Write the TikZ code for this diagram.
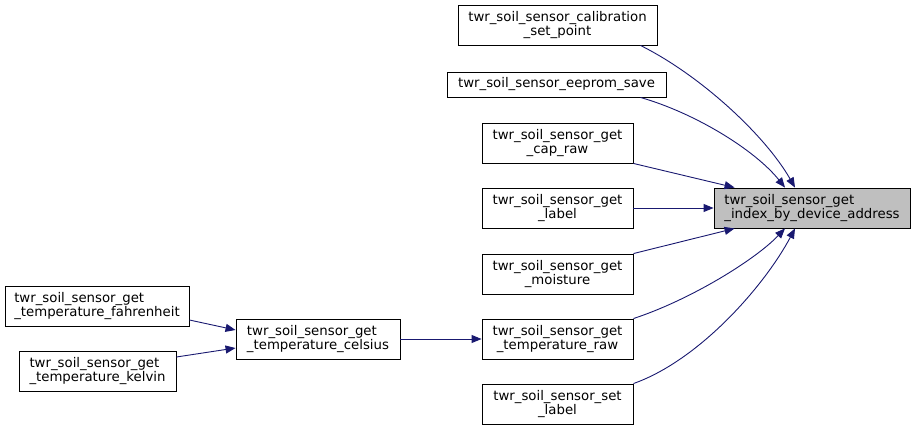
\documentclass[tikz,border=0pt]{standalone}
\usepackage{fontspec}
\setmainfont{DejaVu Sans}
\usetikzlibrary{arrows.meta}
\definecolor{edgeblue}{HTML}{191970}
\definecolor{hlgray}{HTML}{BFBFBF}
\begin{document}
\begin{tikzpicture}[x=1pt,y=-1pt,
  fn/.style={draw=black,line width=0.9pt,fill=white,inner sep=0pt,align=center,
    font=\fontsize{13.3}{14.6}\selectfont},
  fnl/.style={fn,align=left},
  edge/.style={draw=edgeblue,line width=0.9pt,-{Triangle[length=10pt,width=8pt]}}]
\useasboundingbox (0,0) rectangle (916,431);
\node[fn,minimum width=199pt,minimum height=40pt] (calib) at (557.5,25) {twr\_soil\_sensor\_calibration\\\_set\_point};
\node[fn,minimum width=219pt,minimum height=25pt] (eeprom) at (556.5,84.5) {twr\_soil\_sensor\_eeprom\_save};
\node[fn,minimum width=151pt,minimum height=40pt] (cap) at (557.5,143) {twr\_soil\_sensor\_get\\\_cap\_raw};
\node[fn,minimum width=151pt,minimum height=40pt] (glabel) at (557.5,208) {twr\_soil\_sensor\_get\\\_label};
\node[fn,minimum width=151pt,minimum height=40pt] (moist) at (557.5,274) {twr\_soil\_sensor\_get\\\_moisture};
\node[fn,minimum width=151pt,minimum height=40pt] (traw) at (557.5,339) {twr\_soil\_sensor\_get\\\_temperature\_raw};
\node[fn,minimum width=151pt,minimum height=40pt] (slabel) at (557.5,404) {twr\_soil\_sensor\_set\\\_label};
\node[fnl,fill=hlgray,minimum width=196pt,minimum height=40pt] (target) at (812,208) {twr\_soil\_sensor\_get\\\_index\_by\_device\_address};
\node[fnl,minimum width=184pt,minimum height=40pt] (fahr) at (97,306) {twr\_soil\_sensor\_get\\\_temperature\_fahrenheit};
\node[fnl,minimum width=157pt,minimum height=40pt] (kelv) at (97.5,371) {twr\_soil\_sensor\_get\\\_temperature\_kelvin};
\node[fnl,minimum width=164pt,minimum height=40pt] (cels) at (318,339) {twr\_soil\_sensor\_get\\\_temperature\_celsius};

\draw[edge] ([xshift=-17pt]calib.south east) .. controls (700,75) and (765,135) .. ([xshift=-17pt]target.north);
\draw[edge] ([xshift=-26pt]eeprom.south east) .. controls (695,113) and (755,150) .. ([xshift=-27pt]target.north);
\draw[edge] (cap.south east) -- ([xshift=21pt]target.north west);
\draw[edge] (glabel.east) -- (target.west);
\draw[edge] (moist.north east) -- ([xshift=21pt]target.south west);
\draw[edge] (traw.north east) .. controls (690,300) and (755,260) .. ([xshift=-27pt]target.south);
\draw[edge] (slabel.north east) .. controls (700,360) and (765,285) .. ([xshift=-17pt]target.south);
\draw[edge] (cels.east) -- (traw.west);
\draw[edge] ([yshift=-14pt]fahr.east) -- ([yshift=9pt]cels.west);
\draw[edge] ([yshift=14pt]kelv.east) -- ([yshift=-9pt]cels.west);
\end{tikzpicture}
\end{document}
